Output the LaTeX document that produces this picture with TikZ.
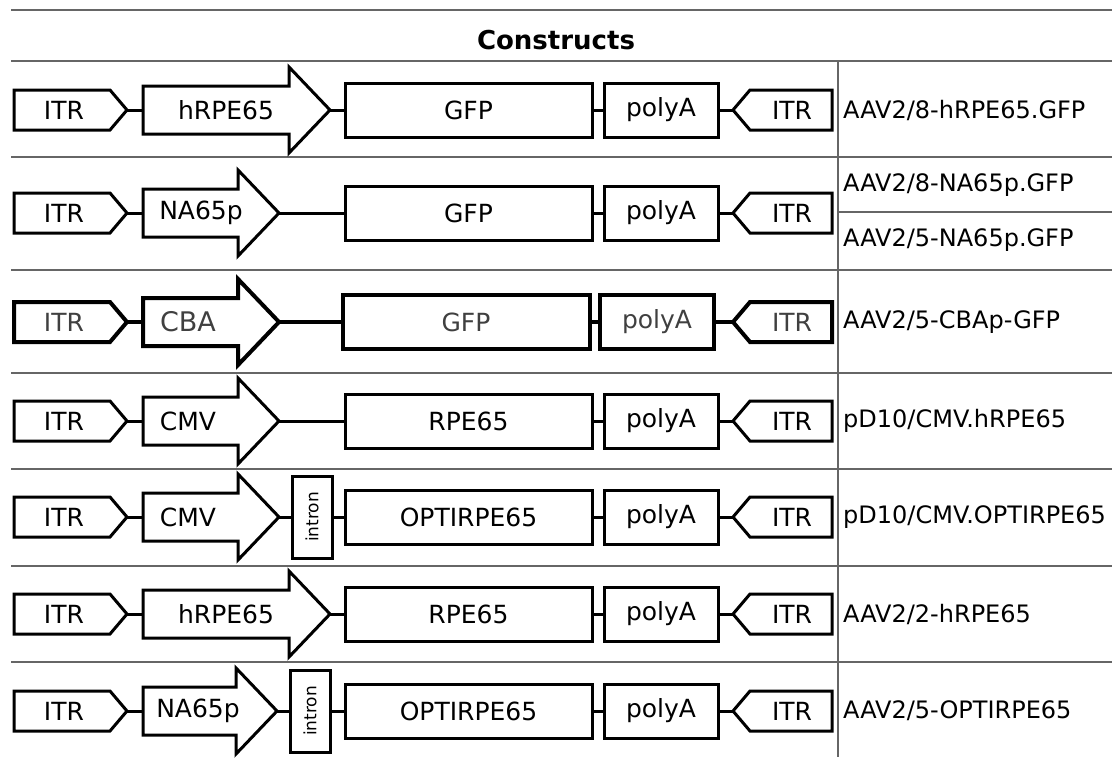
\documentclass[tikz,border=0pt]{standalone}
\usepackage{fontspec}
\setmainfont{DejaVu Sans}
\usepackage{tikz}

% ITR pointing right: name, row y
\newcommand{\itrleft}[2]{%
  \draw[part] (14,#2-20) -- (110,#2-20) -- (127,#2) -- (110,#2+20) -- (14,#2+20) -- cycle;
  \node[lbl] (#1) at (64,#2) {ITR};
  \coordinate (#1tip) at (127,#2);
}
% ITR pointing left: name, row y
\newcommand{\itrright}[2]{%
  \draw[part] (832,#2-20) -- (750,#2-20) -- (733,#2) -- (750,#2+20) -- (832,#2+20) -- cycle;
  \node[lbl] (#1) at (792,#2) {ITR};
  \coordinate (#1tip) at (733,#2);
}
% promoter arrow: name, row y, head base x, text x, text
\newcommand{\promoter}[5]{%
  \draw[part] (143,#2-24) -- (#3,#2-24) -- (#3,#2-43) -- (#3+41,#2) -- (#3,#2+43) -- (#3,#2+24) -- (143,#2+24) -- cycle;
  \node[lbl] (#1) at (#4,#2) {#5};
  \coordinate (#1tail) at (143,#2);
  \coordinate (#1tip) at (#3+41,#2);
}

\begin{document}
\begin{tikzpicture}[x=1pt, y=-1pt]
\tikzstyle{part} = [draw, line width=3pt]
\tikzstyle{lbl} = [inner sep=0pt, font=\fontsize{25}{29}\selectfont]
\tikzstyle{box} = [part, lbl, rectangle, minimum height=54pt]
\tikzstyle{gene} = [box, minimum width=247pt]
\tikzstyle{polya} = [box, minimum width=114pt]
\tikzstyle{intron} = [part, rectangle, rotate=90, minimum width=82pt, minimum height=40pt, inner sep=0pt, font=\fontsize{17}{20}\selectfont]
\tikzstyle{rule} = [draw=black!60, line width=1.6pt]
\tikzstyle{vector} = [inner sep=0pt, anchor=west, font=\fontsize{24}{28}\selectfont]

\fill[white] (0,0) rectangle (1115,757);

% table
\node[inner sep=0pt, font=\fontsize{26}{30}\selectfont\bfseries] (title) at (556,40) {Constructs};
\draw[rule] (11,10) -- (1112,10);
\draw[rule] (11,61) -- (1112,61);
\draw[rule] (11,157) -- (1112,157);
\draw[rule] (11,270) -- (1112,270);
\draw[rule] (11,373) -- (1112,373);
\draw[rule] (11,469) -- (1112,469);
\draw[rule] (11,566) -- (1112,566);
\draw[rule] (11,662) -- (1112,662);
\draw[rule] (838,212) -- (1112,212);
\draw[rule, line width=1.3pt] (838,61) -- (838,757);

% row 1
\itrleft{itrA1}{110}
\promoter{pro1}{110}{289}{226}{hRPE65}
\node[gene] (gene1) at (468.5,110) {GFP};
\node[polya] (pA1) at (661,110) {polyA};
\itrright{itrB1}{110}
\draw[part] (itrA1tip) -- (pro1tail);
\draw[part] (pro1tip) -- (gene1);
\draw[part] (gene1) -- (pA1);
\draw[part] (pA1) -- (itrB1tip);
\node[vector] (vec1) at (843,110) {AAV2/8-hRPE65.GFP};

% row 2
\itrleft{itrA2}{213}
\promoter{pro2}{213}{238}{201}{NA65p}
\node[gene] (gene2) at (468.5,213) {GFP};
\node[polya] (pA2) at (661,213) {polyA};
\itrright{itrB2}{213}
\draw[part] (itrA2tip) -- (pro2tail);
\draw[part] (pro2tip) -- (gene2);
\draw[part] (gene2) -- (pA2);
\draw[part] (pA2) -- (itrB2tip);
\node[vector] (vec2a) at (843,185) {AAV2/8-NA65p.GFP};
\node[vector] (vec2b) at (843,240) {AAV2/5-NA65p.GFP};

% row 3
\begin{scope}[part/.append style={line width=4pt}, lbl/.append style={text=black!75}]
\itrleft{itrA3}{322}
\promoter{pro3}{322}{238}{188}{\fontsize{27}{30}\selectfont CBA}
\node[gene] (gene3) at (466,322) {GFP};
\node[polya] (pA3) at (657,322) {polyA};
\itrright{itrB3}{322}
\draw[part] (itrA3tip) -- (pro3tail);
\draw[part] (pro3tip) -- (gene3);
\draw[part] (gene3) -- (pA3);
\draw[part] (pA3) -- (itrB3tip);
\end{scope}
\node[vector] (vec3) at (843,322) {AAV2/5-CBAp-GFP};

% row 4
\itrleft{itrA4}{421}
\promoter{pro4}{421}{238}{188}{CMV}
\node[gene] (gene4) at (468.5,421) {RPE65};
\node[polya] (pA4) at (661,421) {polyA};
\itrright{itrB4}{421}
\draw[part] (itrA4tip) -- (pro4tail);
\draw[part] (pro4tip) -- (gene4);
\draw[part] (gene4) -- (pA4);
\draw[part] (pA4) -- (itrB4tip);
\node[vector] (vec4) at (843,421) {pD10/CMV.hRPE65};

% row 5
\itrleft{itrA5}{517}
\promoter{pro5}{517}{238}{188}{CMV}
\node[intron] (int5) at (312,517) {intron};
\node[gene] (gene5) at (468.5,517) {OPTIRPE65};
\node[polya] (pA5) at (661,517) {polyA};
\itrright{itrB5}{517}
\draw[part] (itrA5tip) -- (pro5tail);
\draw[part] (pro5tip) -- (int5);
\draw[part] (int5) -- (gene5);
\draw[part] (gene5) -- (pA5);
\draw[part] (pA5) -- (itrB5tip);
\node[vector] (vec5) at (843,517) {pD10/CMV.OPTIRPE65};

% row 6
\itrleft{itrA6}{614}
\promoter{pro6}{614}{289}{226}{hRPE65}
\node[gene] (gene6) at (468.5,614) {RPE65};
\node[polya] (pA6) at (661,614) {polyA};
\itrright{itrB6}{614}
\draw[part] (itrA6tip) -- (pro6tail);
\draw[part] (pro6tip) -- (gene6);
\draw[part] (gene6) -- (pA6);
\draw[part] (pA6) -- (itrB6tip);
\node[vector] (vec6) at (843,614) {AAV2/2-hRPE65};

% row 7
\itrleft{itrA7}{711}
\promoter{pro7}{711}{236}{198}{NA65p}
\node[intron] (int7) at (310,711) {intron};
\node[gene] (gene7) at (468.5,711) {OPTIRPE65};
\node[polya] (pA7) at (661,711) {polyA};
\itrright{itrB7}{711}
\draw[part] (itrA7tip) -- (pro7tail);
\draw[part] (pro7tip) -- (int7);
\draw[part] (int7) -- (gene7);
\draw[part] (gene7) -- (pA7);
\draw[part] (pA7) -- (itrB7tip);
\node[vector] (vec7) at (843,711) {AAV2/5-OPTIRPE65};

\end{tikzpicture}
\end{document}
